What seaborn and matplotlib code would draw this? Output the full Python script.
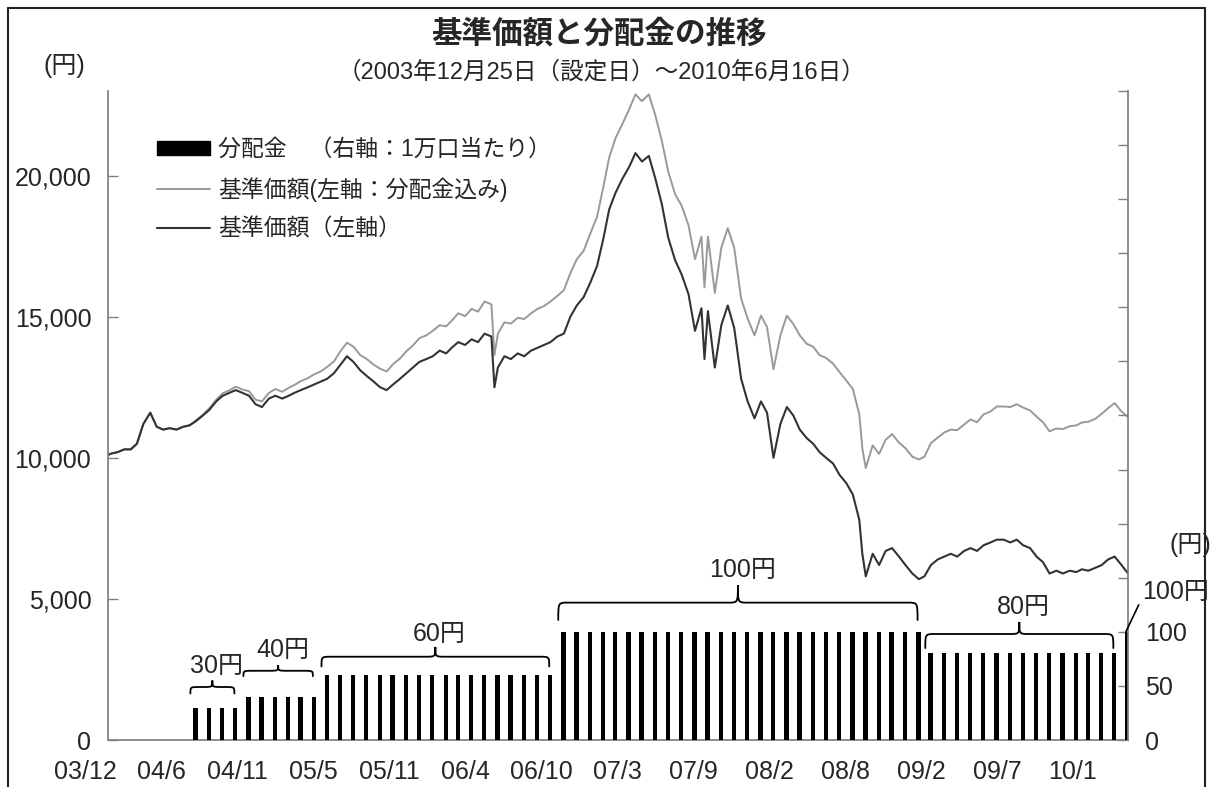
import pandas as pd
import matplotlib
matplotlib.use('Agg')
import matplotlib.pyplot as plt
from matplotlib.path import Path
from matplotlib.patches import PathPatch, Patch
from matplotlib.lines import Line2D
import matplotlib.dates as mdates
import seaborn as sns

# ---- data ----
nav_dates = [
    "2003-12-25",
    "2004-01-01", "2004-01-16", "2004-02-01", "2004-02-16", "2004-03-01", "2004-03-16",
    "2004-04-01", "2004-04-16", "2004-05-01", "2004-05-16", "2004-06-01", "2004-06-16",
    "2004-07-01", "2004-07-16", "2004-08-01", "2004-08-16", "2004-09-01", "2004-09-16",
    "2004-10-01", "2004-10-16", "2004-11-01", "2004-11-16", "2004-12-01", "2004-12-16",
    "2005-01-01", "2005-01-16", "2005-02-01", "2005-02-16", "2005-03-01", "2005-03-16",
    "2005-04-01", "2005-04-16", "2005-05-01", "2005-05-16", "2005-06-01", "2005-06-16",
    "2005-07-01", "2005-07-16", "2005-08-01", "2005-08-16", "2005-09-01", "2005-09-16",
    "2005-10-01", "2005-10-16", "2005-11-01", "2005-11-16", "2005-12-01", "2005-12-16",
    "2006-01-01", "2006-01-16", "2006-02-01", "2006-02-16", "2006-03-01", "2006-03-16",
    "2006-04-01", "2006-04-16", "2006-05-01", "2006-05-16", "2006-06-01", "2006-06-08",
    "2006-06-16", "2006-07-01", "2006-07-16", "2006-08-01", "2006-08-16", "2006-09-01",
    "2006-09-16", "2006-10-01", "2006-10-16", "2006-11-01", "2006-11-16", "2006-12-01",
    "2006-12-16",
    "2007-01-01", "2007-01-16", "2007-02-01", "2007-02-16", "2007-03-01", "2007-03-16",
    "2007-04-01", "2007-04-16", "2007-05-01", "2007-05-16", "2007-06-01", "2007-06-16",
    "2007-07-01", "2007-07-16", "2007-08-01", "2007-08-16", "2007-09-01", "2007-09-16",
    "2007-10-01", "2007-10-08", "2007-10-16", "2007-11-01", "2007-11-16", "2007-12-01",
    "2007-12-16",
    "2008-01-01", "2008-01-16", "2008-02-01", "2008-02-16", "2008-03-01", "2008-03-16",
    "2008-04-01", "2008-04-16", "2008-05-01", "2008-05-16", "2008-06-01", "2008-06-16",
    "2008-07-01", "2008-07-16", "2008-08-01", "2008-08-16", "2008-09-01", "2008-09-16",
    "2008-10-01", "2008-10-08", "2008-10-16", "2008-11-01", "2008-11-16", "2008-12-01",
    "2008-12-16",
    "2009-01-01", "2009-01-16", "2009-02-01", "2009-02-16", "2009-03-01", "2009-03-16",
    "2009-04-01", "2009-04-16", "2009-05-01", "2009-05-16", "2009-06-01", "2009-06-16",
    "2009-07-01", "2009-07-16", "2009-08-01", "2009-08-16", "2009-09-01", "2009-09-16",
    "2009-10-01", "2009-10-16", "2009-11-01", "2009-11-16", "2009-12-01", "2009-12-16",
    "2010-01-01", "2010-01-16", "2010-02-01", "2010-02-16", "2010-03-01", "2010-03-16",
    "2010-04-01", "2010-04-16", "2010-05-01", "2010-05-16", "2010-06-01", "2010-06-16",
]

# 基準価額 (左軸)
nav = [
    10100,
    10150, 10200, 10300, 10300, 10500, 11200, 11600, 11100, 11000, 11050, 11000, 11100,
    11150, 11300, 11500, 11700, 12000, 12200, 12300, 12400, 12300, 12200, 11900, 11800,
    12100, 12200, 12100, 12200, 12300, 12400, 12500, 12600, 12700, 12800, 13000, 13300,
    13600, 13400, 13100, 12900, 12700, 12500, 12400, 12600, 12800, 13000, 13200, 13400,
    13500, 13600, 13800, 13700, 13900, 14100, 14000, 14200, 14100, 14400, 14300, 12500,
    13200, 13600, 13500, 13700, 13600, 13800, 13900, 14000, 14100, 14300, 14400, 15000,
    15400,
    15700, 16200, 16800, 17800, 18800, 19400, 19900, 20300, 20800, 20500, 20700, 19900,
    19000, 17800, 17000, 16500, 15800, 14500, 15300, 13500, 15200, 13200, 14700, 15400,
    14600,
    12800, 12000, 11400, 12000, 11600, 10000, 11200, 11800, 11500, 11000, 10700, 10500,
    10200, 10000, 9800, 9400, 9100, 8700, 7800, 6600, 5800, 6600, 6200, 6700,
    6800,
    6500, 6200, 5900, 5700, 5800, 6200, 6400, 6500, 6600, 6500, 6700, 6800,
    6700, 6900, 7000, 7100, 7100, 7000, 7100, 6900, 6800, 6500, 6300, 5900,
    6000, 5900, 6000, 5950, 6050, 6000, 6100, 6200, 6400, 6500, 6200, 5900,
]

# 基準価額 (左軸：分配金込み)
nav_incl = [
    10100,
    10150, 10200, 10300, 10300, 10500, 11200, 11600, 11100, 11000, 11050, 11000, 11100,
    11150, 11330, 11530, 11760, 12060, 12290, 12390, 12520, 12420, 12360, 12060, 12000,
    12300, 12440, 12340, 12480, 12580, 12720, 12820, 12960, 13060, 13220, 13420, 13780,
    14080, 13940, 13640, 13500, 13300, 13160, 13060, 13320, 13520, 13780, 13980, 14240,
    14340, 14500, 14700, 14660, 14860, 15120, 15020, 15280, 15180, 15540, 15440, 13640,
    14400, 14800, 14760, 14960, 14920, 15120, 15280, 15380, 15540, 15740, 15940, 16540,
    17040,
    17340, 17940, 18540, 19640, 20640, 21340, 21840, 22340, 22880, 22640, 22880, 22140,
    21240, 20140, 19340, 18940, 18240, 17040, 17840, 16040, 17840, 15840, 17440, 18140,
    17440,
    15640, 14940, 14340, 15040, 14640, 13140, 14340, 15040, 14740, 14340, 14040, 13940,
    13640, 13540, 13340, 13040, 12740, 12440, 11540, 10340, 9640, 10440, 10140, 10640,
    10840,
    10540, 10340, 10040, 9940, 10040, 10520, 10720, 10900, 11000, 10980, 11180, 11360,
    11260, 11540, 11640, 11820, 11820, 11800, 11900, 11780, 11680, 11460, 11260, 10940,
    11040, 11020, 11120, 11150, 11250, 11280, 11380, 11560, 11760, 11940, 11640, 11440,
]

# 分配金 (右軸：1万口当たり), monthly from 2004/7 to 2010/6
dist_values = [
    30, 30, 30, 30,
    40, 40, 40, 40, 40, 40,
    60, 60, 60, 60, 60, 60, 60, 60, 60, 60, 60, 60, 60, 60, 60, 60, 60, 60,
    100, 100, 100, 100, 100, 100, 100, 100, 100, 100, 100, 100, 100, 100,
    100, 100, 100, 100, 100, 100, 100, 100, 100, 100, 100, 100, 100, 100,
    80, 80, 80, 80, 80, 80, 80, 80, 80, 80, 80, 80, 80, 80, 80,
    100,
]
dist_dates = pd.date_range("2004-07-01", periods=len(dist_values), freq="MS") + pd.Timedelta(days=14)

tick_labels = ["03/12", "04/6", "04/11", "05/5", "05/11", "06/4", "06/10",
               "07/3", "07/9", "08/2", "08/8", "09/2", "09/7", "10/1"]

df = pd.DataFrame({"date": pd.to_datetime(nav_dates), "nav": nav, "nav_incl": nav_incl})

# ---- style ----
sns.set_theme(style="white")
plt.rcParams["font.family"] = ["Liberation Sans", "Noto Sans CJK JP", "DejaVu Sans"]

W, H = 1213, 787
fig = plt.figure(figsize=(W / 100, H / 100), dpi=100)
fig.patch.set_facecolor("white")
ax = fig.add_axes([108 / W, 47 / H, 1020 / W, 649 / H])
ax2 = ax.twinx()

dark = "#333333"
light = "#999999"
axis_col = "#808080"

sns.lineplot(data=df, x="date", y="nav_incl", ax=ax, color=light, lw=1.4)
sns.lineplot(data=df, x="date", y="nav", ax=ax, color=dark, lw=1.5)
ax2.bar(dist_dates, dist_values, width=10, color="black", linewidth=0)

ax.set_xlim(pd.Timestamp("2003-12-25"), pd.Timestamp("2010-06-16"))
ax.set_ylim(0, 23000)
ax2.set_ylim(0, 600)
ax.set_xlabel("")
ax.set_ylabel("")

ax.set_yticks([0, 5000, 10000, 15000, 20000])
ax.set_yticklabels(["0", "5,000", "10,000", "15,000", "20,000"])
ax2.set_yticks(range(0, 601, 50))
ax2.set_yticklabels(["0", "50", "100"] + [""] * 10)
ax.set_xticks([])

ax.tick_params(axis="y", direction="in", length=7, width=1, color=axis_col,
               labelsize=18, pad=12, left=True)
ax2.tick_params(axis="y", direction="in", length=7, width=1, color=axis_col,
                labelsize=18, pad=12, right=True)

for s in ["top", "right"]:
    ax.spines[s].set_visible(False)
for s in ["left", "bottom"]:
    ax.spines[s].set_color(axis_col)
for s in ["top", "left", "bottom"]:
    ax2.spines[s].set_visible(False)
ax2.spines["right"].set_color(axis_col)

# x tick labels (evenly spaced below the axis)
for i, lab in enumerate(tick_labels):
    xp = 85 + 76 * i
    ax.text((xp - 108) / 1020, -32 / 649, lab, transform=ax.transAxes,
            ha="center", va="center", fontsize=18)

# braces over the distribution groups
groups = []
start = 0
for i in range(1, len(dist_values) + 1):
    if i == len(dist_values) or dist_values[i] != dist_values[start]:
        groups.append((start, i - 1, dist_values[start]))
        start = i

brace_levels = [(43, 49, 55, 68), (59, 64, 69, 83), (68, 77, 86, 98),
                (111, 127, 143, 157), (85, 98, 109, 123)]


def draw_brace(axis, x0, x1, y0, y1, y2, r):
    xm = (x0 + x1) / 2
    verts = [(x0, y0), (x0, y1), (x0, y1), (x0 + r, y1),
             (xm - r, y1), (xm, y1), (xm, y1), (xm, y2),
             (xm, y1), (xm, y1), (xm + r, y1),
             (x1 - r, y1), (x1, y1), (x1, y1), (x1, y0)]
    codes = [Path.MOVETO, Path.CURVE4, Path.CURVE4, Path.CURVE4,
             Path.LINETO, Path.CURVE4, Path.CURVE4, Path.CURVE4,
             Path.CURVE4, Path.CURVE4, Path.CURVE4,
             Path.LINETO, Path.CURVE4, Path.CURVE4, Path.CURVE4]
    axis.add_patch(PathPatch(Path(verts, codes), fill=False, lw=1.3,
                             edgecolor="black", capstyle="round", clip_on=False))


for (g0, g1, val), (y0, y1, y2, yl) in zip(groups[:5], brace_levels):
    x0 = mdates.date2num(dist_dates[g0]) - 12
    x1 = mdates.date2num(dist_dates[g1]) - 2
    r = min(22, (x1 - x0) / 5)
    draw_brace(ax2, x0, x1, y0, y1, y2, r)
    ax2.text((x0 + x1) / 2 + 10, yl, f"{val}円", ha="center", va="center", fontsize=18)

# leader for the last distribution
ax2.annotate(f"{dist_values[-1]}円", xy=(dist_dates[-1] - pd.Timedelta(days=4), dist_values[-1]),
             xytext=(1142, H - 592), textcoords="figure pixels",
             ha="left", va="center", fontsize=18,
             arrowprops=dict(arrowstyle="-", lw=1.2, color="black",
                             relpos=(0, 0.25), shrinkA=0, shrinkB=0))

# legend
handles = [Patch(facecolor="black", edgecolor="black"),
           Line2D([], [], color=light, lw=1.4),
           Line2D([], [], color=dark, lw=1.5)]
labels = ["分配金　（右軸：1万口当たり）", "基準価額(左軸：分配金込み)", "基準価額（左軸）"]
ax2.legend(handles, labels, loc="upper left", bbox_to_anchor=(157 / W, 1 - 138 / H),
           bbox_transform=fig.transFigure, frameon=False, fontsize=16.5,
           handlelength=2.3, handleheight=0.55, handletextpad=0.35,
           labelspacing=0.7, borderpad=0, borderaxespad=0)

# titles and unit labels
fig.text(599 / W, 1 - 34 / H, "基準価額と分配金の推移", ha="center", va="center",
         fontsize=22, fontweight="bold")
fig.text(602 / W, 1 - 72 / H, "（2003年12月25日（設定日）～2010年6月16日）",
         ha="center", va="center", fontsize=17)
fig.text(64 / W, 1 - 66 / H, "(円)", ha="center", va="center", fontsize=18)
fig.text(1190 / W, 1 - 545 / H, "(円)", ha="center", va="center", fontsize=18)

# outer frame
for (xa, ya, xb, yb) in [(8, 8, 1205, 8), (8, 8, 8, H), (1205, 8, 1205, H)]:
    fig.add_artist(Line2D([xa / W, xb / W], [1 - ya / H, 1 - yb / H],
                          transform=fig.transFigure, color="#222222", lw=1.5))

fig.savefig("out.png", dpi=100)
